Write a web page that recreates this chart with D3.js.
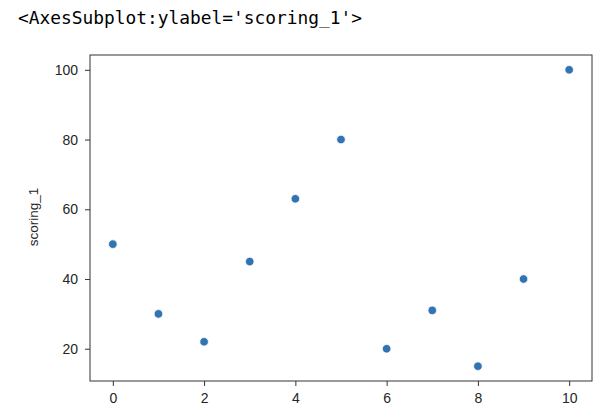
<!DOCTYPE html>
<html><head><meta charset="utf-8">
<script src="https://cdn.jsdelivr.net/npm/d3@7"></script>
<style>body{margin:0;background:#fff}</style>
</head><body>
<script>
const xValues = [0,1,2,3,4,5,6,7,8,9,10];
const scoring1 = [50,30,22,45,63,80,20,31,15,40,100];
const xTicks = [0,2,4,6,8,10];
const yTicks = [20,40,60,80,100];
const header = "<AxesSubplot:ylabel='scoring_1'>";
const yLabel = "scoring_1";

const W=607,H=420;
const L=90,R=592,T=55,B=381;
const svg=d3.select("body").append("svg").attr("width",W).attr("height",H);

svg.append("text").attr("x",18).attr("y",24)
  .attr("font-family","DejaVu Sans Mono, monospace").attr("font-size",17)
  .attr("textLength",344).attr("lengthAdjust","spacingAndGlyphs")
  .attr("fill","#000").text(header);

const x=d3.scaleLinear().domain([-0.5,10.5]).range([L,R]);
const y=d3.scaleLinear().domain([10.75,104.25]).range([B,T]);

const gx=svg.append("g").attr("transform",`translate(0,${B})`)
  .call(d3.axisBottom(x).tickValues(xTicks).tickSize(5).tickPadding(7).tickFormat(d3.format("d")));
const gy=svg.append("g").attr("transform",`translate(${L},0)`)
  .call(d3.axisLeft(y).tickValues(yTicks).tickSize(5).tickPadding(7).tickFormat(d3.format("d")));
[gx,gy].forEach(g=>{
  g.select(".domain").remove();
  g.selectAll("line").attr("stroke","#333").attr("stroke-width",1);
  g.selectAll("text").attr("font-family","Liberation Sans, Arial, sans-serif").attr("font-size",14).attr("fill","#262626");
});

svg.append("rect").attr("x",L).attr("y",T).attr("width",R-L).attr("height",B-T)
  .attr("fill","none").attr("stroke","#333").attr("stroke-width",1);

svg.append("text").attr("transform",`translate(38,217) rotate(-90)`)
  .attr("text-anchor","middle").attr("font-family","Liberation Sans, Arial, sans-serif")
  .attr("font-size",13.5).attr("fill","#262626").text(yLabel);

svg.append("g").selectAll("circle").data(xValues).join("circle")
  .attr("cx",(d)=>x(d)).attr("cy",(d,i)=>y(scoring1[i])).attr("r",4.3)
  .attr("fill","#3274b2").attr("stroke","#fff").attr("stroke-width",0.8);
</script>
</body></html>
